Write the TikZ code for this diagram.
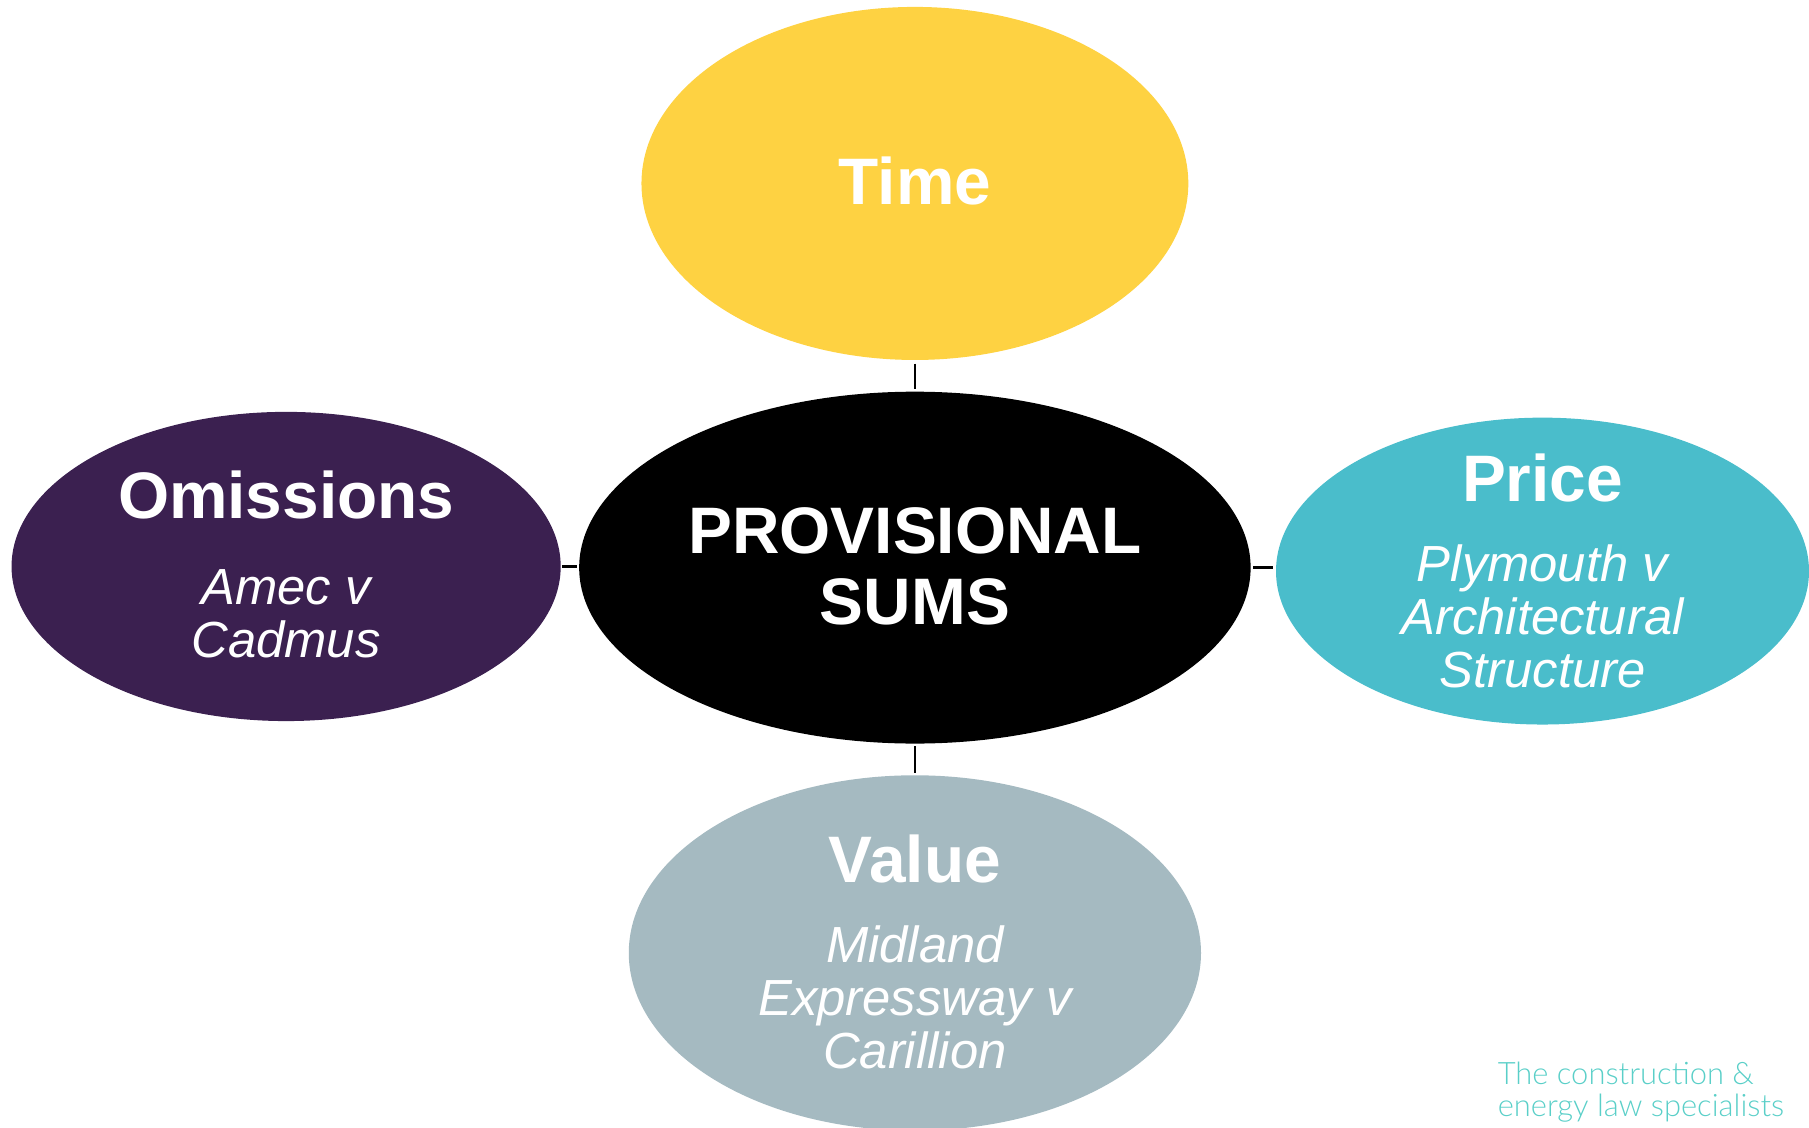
\documentclass[tikz,border=0pt]{standalone}
\usepackage{fontspec}
\setmainfont{Liberation Sans}
\newfontfamily\tagfont{Lato Light}
\usetikzlibrary{shapes.geometric}
\definecolor{timeyellow}{HTML}{FED242}
\definecolor{omitpurple}{HTML}{3B2050}
\definecolor{priceteal}{HTML}{4ABDCB}
\definecolor{valuegrey}{HTML}{A5BAC1}
\definecolor{tagteal}{HTML}{5ACFC8}
\tikzset{
  blob/.style={ellipse, inner sep=0pt, draw=none},
  headtxt/.style={text=white, anchor=base, inner sep=0pt, font=\fontsize{57}{61}\selectfont\bfseries},
  casetxt/.style={text=white, anchor=base, inner sep=0pt, align=center,
    font=\fontsize{44}{46}\selectfont\itshape},
  link/.style={line width=2pt, black}
}
\begin{document}
\begin{tikzpicture}[x=1pt,y=-1pt]
\useasboundingbox (0,0) rectangle (1568,977);
\begin{scope}
\clip (0,0) rectangle (1568,977);
% the five ellipses
\node[blob, fill=timeyellow, minimum width=474pt, minimum height=306pt] (time) at (793,159) {};
\node[blob, fill=black, minimum width=582pt, minimum height=305pt] (core) at (793,492) {};
\node[blob, fill=omitpurple, minimum width=476pt, minimum height=268pt] (omit) at (248,491) {};
\node[blob, fill=priceteal, minimum width=462pt, minimum height=266pt] (price) at (1337,495) {};
\node[blob, fill=valuegrey, minimum width=496pt, minimum height=308pt] (value) at (793,826) {};
\end{scope}
% short links between the ellipses
\draw[link, shorten >=2pt, shorten <=3pt] (time.south) -- (core.north);
\draw[link, shorten >=2pt, shorten <=2pt] (core.south) -- (value.north);
\draw[link, shorten >=2pt, shorten <=1pt] (omit.east) -- (omit.east -| core.west);
\draw[link, shorten >=2pt, shorten <=2pt] (core.east) -- (core.east -| price.west);
% labels (multi-line texts sit on the baseline of their last line)
\node[headtxt] (timeT) at (793,177) {Time};
\node[headtxt, align=center] (coreT) at (793,541) {PROVISIONAL\\SUMS};
\node[headtxt] (omitT) at (248,449) {Omissions};
\node[casetxt] (omitC) at (248,570) {Amec v\\Cadmus};
\node[headtxt] (priceT) at (1337,435) {Price};
\node[casetxt] (priceC) at (1337,596) {Plymouth v\\Architectural\\Structure};
\node[headtxt] (valueT) at (793,765) {Value};
\node[casetxt] (valueC) at (793,926) {Midland\\Expressway v\\Carillion};
% strapline
\node[anchor=base west, inner sep=0pt, text=tagteal, align=left,
  font=\tagfont\fontsize{26.8}{28}\selectfont] (tag) at (1298,968)
  {The construction \&\\energy law specialists};
\end{tikzpicture}
\end{document}
